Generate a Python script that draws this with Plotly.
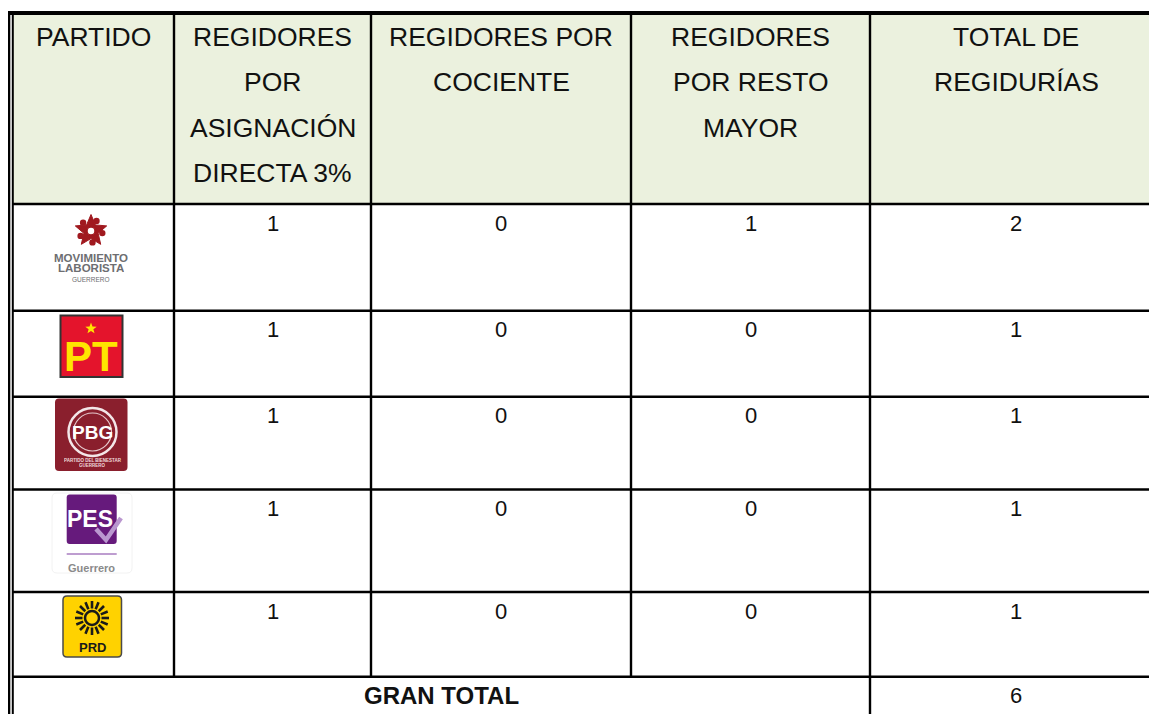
import math
import plotly.graph_objects as go

# ---------------- data ----------------
partidos = ["MOVIMIENTO LABORISTA", "PT", "PBG", "PES", "PRD"]
asignacion_directa = [1, 1, 1, 1, 1]
por_cociente = [0, 0, 0, 0, 0]
por_resto_mayor = [1, 0, 0, 0, 0]
total_regidurias = [2, 1, 1, 1, 1]
gran_total_label = "GRAN TOTAL"
gran_total = 6

headers = [
    ["PARTIDO"],
    ["REGIDORES", "POR", "ASIGNACIÓN", "DIRECTA 3%"],
    ["REGIDORES POR", "COCIENTE"],
    ["REGIDORES", "POR RESTO", "MAYOR"],
    ["TOTAL DE", "REGIDURÍAS"],
]

# ---------------- layout constants ----------------
W, H = 1157, 722
OFF = 8  # page body margin: axes are shifted so that data coords == window pixels
col_edges = [12.5, 174, 371, 631, 870, 1162]
row_edges = [13, 204, 310.7, 396.7, 489.5, 592, 676.7, 760]
HEADER_FILL = "#EBF1DE"
LINE = "#000000"
FONT = "Liberation Sans, Arial, sans-serif"

fig = go.Figure()
shapes = []
ann = []


def line(x0, y0, x1, y1, w=2.5, color=LINE, layer="above"):
    shapes.append(dict(type="line", xref="x", yref="y", x0=x0, y0=y0, x1=x1, y1=y1,
                       line=dict(color=color, width=w), layer=layer))


def text(x, y, s, size, color="#111111", bold=False, family=FONT, **kw):
    if bold:
        s = "<b>" + s + "</b>"
    ann.append(dict(x=x, y=y, xref="x", yref="y", text=s, showarrow=False,
                    font=dict(family=family, size=size, color=color), **kw))


def rrect(x0, y0, x1, y1, r, fill, lc=None, lw=0):
    p = (f"M {x0+r},{y0} L {x1-r},{y0} Q {x1},{y0} {x1},{y0+r} "
         f"L {x1},{y1-r} Q {x1},{y1} {x1-r},{y1} L {x0+r},{y1} "
         f"Q {x0},{y1} {x0},{y1-r} L {x0},{y0+r} Q {x0},{y0} {x0+r},{y0} Z")
    shapes.append(dict(type="path", xref="x", yref="y", path=p, fillcolor=fill,
                       line=dict(color=lc if lc else fill, width=lw if lc else 0), layer="above"))


def star_path(cx, cy, ro, ri, n=5):
    pts = []
    for k in range(2 * n):
        a = -math.pi / 2 + k * math.pi / n
        r = ro if k % 2 == 0 else ri
        pts.append((cx + r * math.cos(a), cy + r * math.sin(a)))
    return "M " + " L ".join(f"{x:.2f},{y:.2f}" for x, y in pts) + " Z"


# header background
shapes.append(dict(type="rect", xref="x", yref="y", x0=col_edges[0], y0=row_edges[0],
                   x1=W + 5, y1=row_edges[1], fillcolor=HEADER_FILL, line=dict(width=0), layer="below"))

# header text
header_line_y = [37, 82, 128, 173]
for ci, lines in enumerate(headers):
    cx = (col_edges[ci] + col_edges[ci + 1]) / 2
    for li, s in enumerate(lines):
        text(cx, header_line_y[li], s, 26.5, color="#111111")

# body numbers
cols_vals = [asignacion_directa, por_cociente, por_resto_mayor, total_regidurias]
for ri in range(len(partidos)):
    ytop = row_edges[ri + 1]
    for ci, vals in enumerate(cols_vals):
        cx = (col_edges[ci + 1] + col_edges[ci + 2]) / 2
        text(cx, ytop + 19, str(vals[ri]), 22, color="#111111")

# gran total row
gy = row_edges[6] + 19
text((col_edges[0] + col_edges[4]) / 2, gy, gran_total_label, 24, bold=True, color="#111111")
text((col_edges[4] + col_edges[5]) / 2, gy, str(gran_total), 22, color="#111111")

# ---------------- grid lines ----------------
line(7, 13, W + 5, 13, w=4)                         # top border
line(9, 11, 9, H + 5, w=2.6)                        # outer left double border
line(12.8, 15, 12.8, H + 5, w=2)                    # inner left double border
for y in row_edges[1:7]:
    line(12, y, W + 5, y, w=2.6)
for x in col_edges[1:4]:
    line(x, 13, x, row_edges[6], w=2.4)
line(col_edges[4], 13, col_edges[4], H + 5, w=2.4)

# ---------------- logos (first column) ----------------
cx0 = (col_edges[0] + col_edges[1]) / 2

# Movimiento Laborista
mx, my = 91, 231
shapes.append(dict(type="path", xref="x", yref="y", path=star_path(mx, my, 16.5, 7.5),
                   fillcolor="#A0191F", line=dict(color="#A0191F", width=1), layer="above"))
for k in range(5):
    a = -math.pi / 2 + k * 2 * math.pi / 5 + 0.5
    x, y = mx + 11.5 * math.cos(a), my + 11.5 * math.sin(a)
    shapes.append(dict(type="circle", xref="x", yref="y", x0=x - 3.2, y0=y - 3.2, x1=x + 3.2, y1=y + 3.2,
                       fillcolor="#A0191F", line=dict(width=0), layer="above"))
shapes.append(dict(type="circle", xref="x", yref="y", x0=mx - 4, y0=my - 4, x1=mx + 4, y1=my + 4,
                   fillcolor="white", line=dict(color="#A0191F", width=1.5), layer="above"))
text(cx0 - 2, 258, "MOVIMIENTO", 11.5, color="#6D6E71", bold=True, height=10)
text(cx0 - 2, 268, "LABORISTA", 11.5, color="#6D6E71", bold=True, height=10)
text(cx0 - 2, 279, "GUERRERO", 6.5, color="#6D6E71")

# PT
shapes.append(dict(type="rect", xref="x", yref="y", x0=60.5, y0=315.5, x1=122.5, y1=377,
                   fillcolor="#E4142C", line=dict(color="#333333", width=2), layer="above"))
shapes.append(dict(type="path", xref="x", yref="y", path=star_path(91, 328.5, 6, 2.5),
                   fillcolor="#FFE500", line=dict(width=0), layer="above"))
text(91, 356, "PT", 42, color="#FFE500", bold=True)

# PBG
rrect(55, 398.5, 127.5, 471, 4, "#8A1F2D")
shapes.append(dict(type="circle", xref="x", yref="y", x0=92.5 - 24, y0=432 - 24, x1=92.5 + 24, y1=432 + 24,
                   fillcolor="rgba(0,0,0,0)", line=dict(color="#F3E6E8", width=2.5), layer="above"))
shapes.append(dict(type="circle", xref="x", yref="y", x0=92.5 - 19, y0=432 - 19, x1=92.5 + 19, y1=432 + 19,
                   fillcolor="rgba(0,0,0,0)", line=dict(color="#E6C9CD", width=1.2), layer="above"))
text(92.5, 432, "PBG", 19, color="white", bold=True)
text(92.5, 460.5, "PARTIDO DEL BIENESTAR", 4.5, color="#F0DADD", bold=True, height=5)
text(92.5, 465.5, "GUERRERO", 4.5, color="#F0DADD", bold=True, height=5)

# PES
rrect(52, 493, 132, 573, 5, "white", lc="#F2F2F2", lw=1)
rrect(66.7, 494.5, 116.7, 544, 3, "#661A7C")
text(90, 518.5, "PES", 23, color="white", bold=True)
shapes.append(dict(type="path", xref="x", yref="y",
                   path="M 96,529 L 106,540 L 121,518", fillcolor="rgba(0,0,0,0)",
                   line=dict(color="#BA97CF", width=4.5), layer="above"))
line(66.7, 554, 116.7, 554, w=1.5, color="#A87CC0")
text(91.5, 568, "Guerrero", 11, color="#8A8A8A", bold=True)

# PRD
rrect(63, 596, 121.5, 657, 4, "#FFD200", lc="#4A4A4A", lw=1.5)
sx, sy = 92, 618
for k in range(16):
    a = k * math.pi / 8
    line(sx + 9.5 * math.cos(a), sy + 9.5 * math.sin(a),
         sx + 17 * math.cos(a), sy + 17 * math.sin(a), w=2.6, color="#1A1A1A")
shapes.append(dict(type="circle", xref="x", yref="y", x0=sx - 7, y0=sy - 7, x1=sx + 7, y1=sy + 7,
                   fillcolor="#FFD200", line=dict(color="#1A1A1A", width=2.5), layer="above"))
text(92, 647, "PRD", 13, color="#1A1A1A", bold=True)

fig.update_layout(
    width=W - OFF, height=H - 2 * OFF,
    margin=dict(l=0, r=0, t=0, b=0, pad=0),
    paper_bgcolor="white", plot_bgcolor="white",
    xaxis=dict(range=[OFF, W], visible=False, fixedrange=True),
    yaxis=dict(range=[H - OFF, OFF], visible=False, fixedrange=True),
    shapes=shapes, annotations=ann, showlegend=False,
)
fig.write_html("out.html")
